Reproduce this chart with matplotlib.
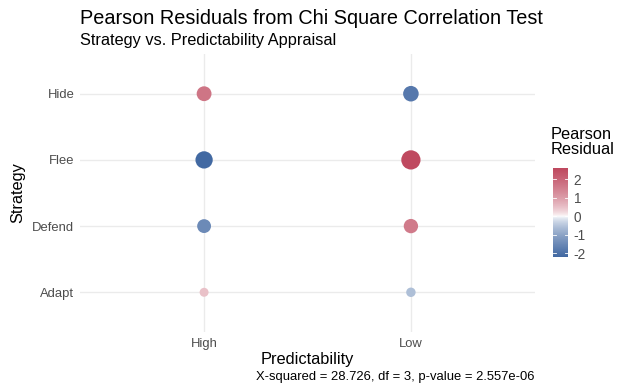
import numpy as np
import matplotlib
matplotlib.use("Agg")
from matplotlib import pyplot as plt
from matplotlib.colors import ListedColormap, Normalize

# data
strategies = ["Adapt", "Defend", "Flee", "Hide"]
predictability = ["High", "Low"]
resid_high = [0.5, -1.5, -2.2, 1.7]
resid_low = [-0.6, 1.6, 2.6, -1.85]
colorbar_ticks = [-2, -1, 0, 1, 2]

plt.rcParams['font.family'] = ['Liberation Sans', 'Helvetica', 'DejaVu Sans']

# diverging blue-white-red, a bit stronger near the middle (like ggplot's gradient2)
low_c = np.array([45, 88, 152]) / 255
mid_c = np.array([1.0, 1.0, 1.0])
high_c = np.array([191, 73, 95]) / 255
t = np.linspace(-1, 1, 256)[:, None]
frac = np.abs(t) ** 0.65
rgb = np.where(t < 0, mid_c + (low_c - mid_c) * frac, mid_c + (high_c - mid_c) * frac)
cmap = ListedColormap(rgb)

all_res = np.array(resid_high + resid_low)
lim = np.abs(all_res).max()
norm = Normalize(-lim, lim)

fig = plt.figure(figsize=(6.3, 3.9), dpi=100)
W, H = 630, 390
# panel in pixels: x 80-535, y 54-332
ax = fig.add_axes([80 / W, 1 - 332 / H, 455 / W, 278 / H])

for i, col in enumerate([resid_high, resid_low]):
    vals = np.array(col)
    diam = 6.5 + 4.9 * np.abs(vals)  # px
    ax.scatter(np.full(len(vals), i), np.arange(len(strategies)),
               s=(diam * 0.72) ** 2, c=cmap(norm(vals)), edgecolors='none',
               zorder=3)

ax.set_xlim(-0.6, 1.6)
ax.set_ylim(-0.6, 3.6)
ax.set_xticks(range(len(predictability)))
ax.set_xticklabels(predictability)
ax.set_yticks(range(len(strategies)))
ax.set_yticklabels(strategies)
ax.grid(True, color='#ebebeb', linewidth=1.0)
ax.set_axisbelow(True)
for s in ax.spines.values():
    s.set_visible(False)
ax.tick_params(length=0, labelsize=9.4, labelcolor='#4d4d4d', pad=4)
ax.set_xlabel("Predictability", fontsize=11.8, labelpad=2)
ax.set_ylabel("Strategy", fontsize=11.8, labelpad=5)

fig.text(80 / W, 1 - 18 / H, "Pearson Residuals from Chi Square Correlation Test",
         fontsize=14.3, ha='left', va='center')
fig.text(80 / W, 1 - 41 / H, "Strategy vs. Predictability Appraisal",
         fontsize=11.8, ha='left', va='center')
fig.text(535 / W, 1 - 377 / H, "X-squared = 28.726, df = 3, p-value = 2.557e-06",
         fontsize=9.4, ha='right', va='center')

# colour legend
vmin, vmax = all_res.min(), all_res.max()
cax = fig.add_axes([553 / W, 1 - 257 / H, 15 / W, 89 / H])
grad = np.linspace(vmin, vmax, 200).reshape(-1, 1)
cax.imshow(grad, aspect='auto', origin='lower', cmap=cmap, norm=norm,
           extent=[0, 1, vmin, vmax])
cax.set_xlim(0, 1)
cax.set_ylim(vmin, vmax)
cax.set_xticks([])
cax.yaxis.tick_right()
cax.set_yticks(colorbar_ticks)
cax.set_yticklabels([str(tk) for tk in colorbar_ticks])
cax.tick_params(length=0, labelsize=9.8, labelcolor='#4d4d4d', pad=4)
for tk in colorbar_ticks:
    cax.plot([0, 0.2], [tk, tk], color='white', lw=0.6)
    cax.plot([0.8, 1], [tk, tk], color='white', lw=0.6)
for s in cax.spines.values():
    s.set_visible(False)
fig.text(551 / W, 1 - 142 / H, "Pearson\nResidual", fontsize=11.8,
         ha='left', va='center', linespacing=1.0)

fig.savefig("out.png", dpi=100)
